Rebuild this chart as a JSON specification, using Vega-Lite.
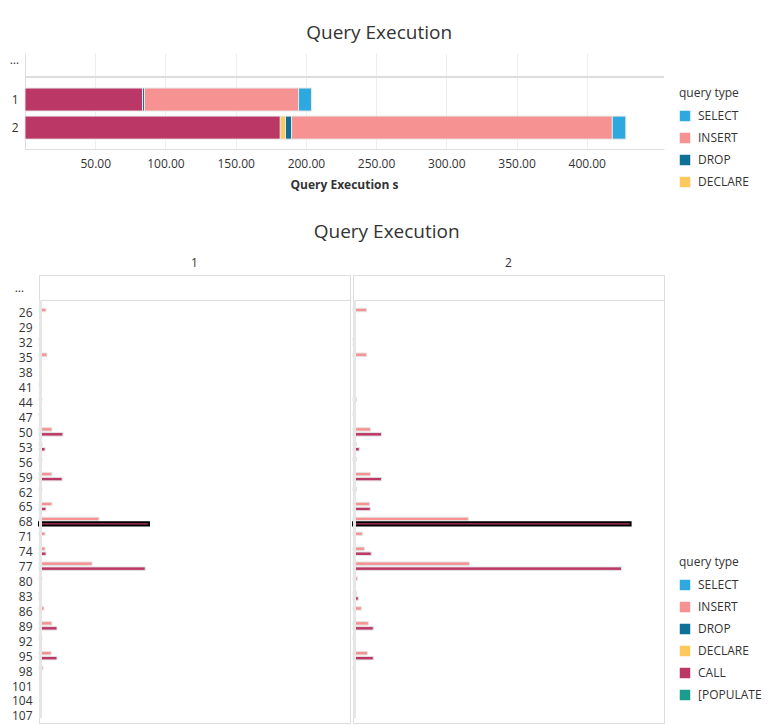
{
  "$schema": "https://vega.github.io/schema/vega-lite/v6.json",
  "background": "white",
  "padding": {"left": 9, "top": 24, "right": 4, "bottom": 0},
  "config": {
    "font": "Open Sans",
    "title": {"font": "Open Sans", "fontSize": 19, "fontWeight": "normal", "color": "#333333", "anchor": "middle", "frame": "bounds", "offset": 10},
    "axis": {"labelFont": "Open Sans", "labelFontSize": 12, "labelColor": "#333333", "titleFont": "Open Sans", "titleFontSize": 12, "titleColor": "#333333", "domainColor": "#dddddd", "gridColor": "#eeeeee", "ticks": false},
    "header": {"labelFont": "Open Sans", "labelFontSize": 12, "labelColor": "#333333"},
    "legend": {"titleFont": "Open Sans", "labelFont": "Open Sans", "titleFontWeight": "normal", "titleFontSize": 12, "labelFontSize": 12, "titleColor": "#333333", "labelColor": "#333333", "symbolType": "square", "symbolSize": 110, "symbolStrokeWidth": 0, "rowPadding": 10, "titlePadding": 10, "labelOffset": 7, "padding": 0},
    "view": {"stroke": "#dddddd"}
  },
  "columns": 1,
  "align": "none",
  "spacing": 33,
  "resolve": {"scale": {"color": "independent"}, "legend": {"color": "independent"}},
  "concat": [
    {
      "title": "Query Execution",
      "width": 639,
      "height": 96,
      "view": {"stroke": null},
      "data": {
        "values": [
          {"group": "1", "type": "CALL", "seconds": 83.7},
          {"group": "1", "type": "DROP", "seconds": 1.4},
          {"group": "1", "type": "INSERT", "seconds": 109.7},
          {"group": "1", "type": "SELECT", "seconds": 9.2},
          {"group": "2", "type": "CALL", "seconds": 181.8},
          {"group": "2", "type": "DECLARE", "seconds": 3.7},
          {"group": "2", "type": "DROP", "seconds": 4.3},
          {"group": "2", "type": "INSERT", "seconds": 228.4},
          {"group": "2", "type": "SELECT", "seconds": 9.6}
        ]
      },
      "layer": [
        {
          "mark": {"type": "bar", "stroke": "#e6e6e6", "strokeWidth": 1},
          "encoding": {
            "y": {
              "field": "group", "type": "ordinal", "title": "…",
              "scale": {"domain": ["1", "2"], "paddingInner": 0.18, "paddingOuter": 0.8, "align": 0.78},
              "axis": {"offset": 14, "titleAngle": 0, "titleAlign": "center", "titleBaseline": "alphabetic", "titleFontWeight": "normal", "titleX": -11, "titleY": 10, "labelPadding": 7}
            },
            "x": {
              "field": "seconds", "type": "quantitative", "stack": "zero", "title": "Query Execution s",
              "scale": {"domain": [0, 455], "nice": false, "range": [-14, 625]},
              "axis": {"values": [50, 100, 150, 200, 250, 300, 350, 400], "format": ".2f", "grid": true, "labelPadding": 9, "titlePadding": 10, "titleX": 305, "titleAlign": "center"}
            },
            "color": {
              "field": "type", "type": "nominal", "title": "query type",
              "scale": {"domain": ["SELECT", "INSERT", "DROP", "DECLARE", "CALL", "[POPULATE"], "range": ["#2ea9df", "#f69292", "#0e7096", "#fec95c", "#bb3765", "#1a9c90"]},
              "legend": {"orient": "none", "legendX": 640, "legendY": 35, "values": ["SELECT", "INSERT", "DROP", "DECLARE"]}
            },
            "order": {"field": "type", "sort": "ascending"}
          }
        },
        {
          "mark": {"type": "rule", "color": "#dddddd"},
          "encoding": {
            "y": {"datum": "1", "type": "ordinal", "bandPosition": -0.48, "title": "…"},
            "x": {"datum": 0, "type": "quantitative", "title": "Query Execution s"},
            "x2": {"datum": 455}
          }
        }
      ]
    },
    {
      "title": {"text": "Query Execution", "offset": 15},
      "data": {
        "values": [
          {"group": "1", "query": 26, "type": "INSERT", "seconds": 1.85},
          {"group": "1", "query": 32, "type": "INSERT", "seconds": 0.5},
          {"group": "1", "query": 33, "type": "CALL", "seconds": 0.25},
          {"group": "1", "query": 35, "type": "INSERT", "seconds": 2.1},
          {"group": "1", "query": 41, "type": "INSERT", "seconds": 0.5},
          {"group": "1", "query": 44, "type": "INSERT", "seconds": 0.8},
          {"group": "1", "query": 47, "type": "INSERT", "seconds": 0.5},
          {"group": "1", "query": 50, "type": "INSERT", "seconds": 3.4},
          {"group": "1", "query": 51, "type": "CALL", "seconds": 6.3},
          {"group": "1", "query": 53, "type": "INSERT", "seconds": 0.8},
          {"group": "1", "query": 54, "type": "CALL", "seconds": 1.6},
          {"group": "1", "query": 56, "type": "INSERT", "seconds": 0.8},
          {"group": "1", "query": 59, "type": "INSERT", "seconds": 3.4},
          {"group": "1", "query": 60, "type": "CALL", "seconds": 6.1},
          {"group": "1", "query": 62, "type": "INSERT", "seconds": 0.8},
          {"group": "1", "query": 65, "type": "INSERT", "seconds": 3.4},
          {"group": "1", "query": 66, "type": "CALL", "seconds": 1.85},
          {"group": "1", "query": 68, "type": "INSERT", "seconds": 15.8},
          {"group": "1", "query": 69, "type": "CALL", "seconds": 29.0},
          {"group": "1", "query": 71, "type": "INSERT", "seconds": 1.6},
          {"group": "1", "query": 74, "type": "INSERT", "seconds": 1.6},
          {"group": "1", "query": 75, "type": "CALL", "seconds": 1.85},
          {"group": "1", "query": 77, "type": "INSERT", "seconds": 14.0},
          {"group": "1", "query": 78, "type": "CALL", "seconds": 28.0},
          {"group": "1", "query": 80, "type": "INSERT", "seconds": 0.8},
          {"group": "1", "query": 83, "type": "INSERT", "seconds": 0.5},
          {"group": "1", "query": 84, "type": "CALL", "seconds": 0.3},
          {"group": "1", "query": 86, "type": "INSERT", "seconds": 1.3},
          {"group": "1", "query": 89, "type": "INSERT", "seconds": 3.4},
          {"group": "1", "query": 90, "type": "CALL", "seconds": 4.75},
          {"group": "1", "query": 92, "type": "INSERT", "seconds": 0.8},
          {"group": "1", "query": 95, "type": "INSERT", "seconds": 3.2},
          {"group": "1", "query": 96, "type": "CALL", "seconds": 4.75},
          {"group": "1", "query": 98, "type": "INSERT", "seconds": 1.05},
          {"group": "2", "query": 26, "type": "INSERT", "seconds": 3.6},
          {"group": "2", "query": 32, "type": "INSERT", "seconds": 0.3},
          {"group": "2", "query": 33, "type": "CALL", "seconds": 0.3},
          {"group": "2", "query": 35, "type": "INSERT", "seconds": 3.6},
          {"group": "2", "query": 44, "type": "INSERT", "seconds": 0.95},
          {"group": "2", "query": 47, "type": "INSERT", "seconds": 0.6},
          {"group": "2", "query": 50, "type": "INSERT", "seconds": 4.6},
          {"group": "2", "query": 51, "type": "CALL", "seconds": 7.5},
          {"group": "2", "query": 53, "type": "INSERT", "seconds": 0.95},
          {"group": "2", "query": 54, "type": "CALL", "seconds": 1.65},
          {"group": "2", "query": 56, "type": "INSERT", "seconds": 0.95},
          {"group": "2", "query": 59, "type": "INSERT", "seconds": 4.6},
          {"group": "2", "query": 60, "type": "CALL", "seconds": 7.5},
          {"group": "2", "query": 62, "type": "INSERT", "seconds": 0.95},
          {"group": "2", "query": 65, "type": "INSERT", "seconds": 4.4},
          {"group": "2", "query": 66, "type": "CALL", "seconds": 4.55},
          {"group": "2", "query": 68, "type": "INSERT", "seconds": 30.4},
          {"group": "2", "query": 69, "type": "CALL", "seconds": 73.2},
          {"group": "2", "query": 71, "type": "INSERT", "seconds": 2.45},
          {"group": "2", "query": 74, "type": "INSERT", "seconds": 3.0},
          {"group": "2", "query": 75, "type": "CALL", "seconds": 4.8},
          {"group": "2", "query": 77, "type": "INSERT", "seconds": 30.7},
          {"group": "2", "query": 78, "type": "CALL", "seconds": 70.8},
          {"group": "2", "query": 80, "type": "INSERT", "seconds": 1.15},
          {"group": "2", "query": 83, "type": "INSERT", "seconds": 0.95},
          {"group": "2", "query": 84, "type": "CALL", "seconds": 1.4},
          {"group": "2", "query": 86, "type": "INSERT", "seconds": 2.2},
          {"group": "2", "query": 89, "type": "INSERT", "seconds": 4.05},
          {"group": "2", "query": 90, "type": "CALL", "seconds": 5.35},
          {"group": "2", "query": 92, "type": "INSERT", "seconds": 0.6},
          {"group": "2", "query": 95, "type": "INSERT", "seconds": 3.8},
          {"group": "2", "query": 96, "type": "CALL", "seconds": 5.35},
          {"group": "2", "query": 98, "type": "INSERT", "seconds": 0.6}
        ]
      },
      "facet": {
        "column": {"field": "group", "type": "ordinal", "header": {"title": null, "labelPadding": 4}}
      },
      "spacing": 0,
      "spec": {
        "width": 311,
        "height": 448,
        "layer": [
          {
            "mark": {"type": "bar"},
            "encoding": {
              "y": {
                "field": "query", "type": "ordinal", "title": "…",
                "scale": {
                  "domain": [20, 21, 22, 23, 24, 25, 26, 27, 28, 29, 30, 31, 32, 33, 34, 35, 36, 37, 38, 39, 40, 41, 42, 43, 44, 45, 46, 47, 48, 49, 50, 51, 52, 53, 54, 55, 56, 57, 58, 59, 60, 61, 62, 63, 64, 65, 66, 67, 68, 69, 70, 71, 72, 73, 74, 75, 76, 77, 78, 79, 80, 81, 82, 83, 84, 85, 86, 87, 88, 89, 90, 91, 92, 93, 94, 95, 96, 97, 98, 99, 100, 101, 102, 103, 104, 105, 106, 107, 108],
                  "paddingInner": 0.3, "paddingOuter": 0.68, "align": 0.5
                },
                "axis": {"values": [26, 29, 32, 35, 38, 41, 44, 47, 50, 53, 56, 59, 62, 65, 68, 71, 74, 77, 80, 83, 86, 89, 92, 95, 98, 101, 104, 107], "domain": false, "labelOffset": 3.5, "labelPadding": 5, "titleAngle": 0, "titleAlign": "center", "titleBaseline": "alphabetic", "titleFontWeight": "normal", "titleX": -18, "titleY": 16}
              },
              "x": {"field": "seconds", "type": "quantitative", "scale": {"domain": [0, 82], "nice": false}, "axis": null},
              "color": {
                "field": "type", "type": "nominal", "title": "query type",
                "scale": {"domain": ["SELECT", "INSERT", "DROP", "DECLARE", "CALL", "[POPULATE"], "range": ["#2ea9df", "#f69292", "#0e7096", "#fec95c", "#bb3765", "#1a9c90"]},
                "legend": {"orient": "none", "legendX": 640, "legendY": 282, "values": ["SELECT", "INSERT", "DROP", "DECLARE", "CALL", "[POPULATE"]}
              },
              "stroke": {"condition": {"test": "datum.query === 69", "value": "#000000"}, "value": "#e4e4e4"},
              "strokeWidth": {"condition": {"test": "datum.query === 69", "value": 2}, "value": 1}
            }
          },
          {
            "mark": {"type": "rule", "color": "#dddddd"},
            "encoding": {
              "y": {"datum": 25, "type": "ordinal", "bandPosition": -0.79, "title": "…"}
            }
          },
          {
            "mark": {"type": "rule", "color": "#e6e6e6", "strokeWidth": 3, "xOffset": 1.5},
            "encoding": {
              "x": {"datum": 0, "type": "quantitative"},
              "y": {"datum": 25, "type": "ordinal", "bandPosition": -0.79, "title": "…"},
              "y2": {"datum": 108}
            }
          }
        ]
      }
    }
  ]
}
